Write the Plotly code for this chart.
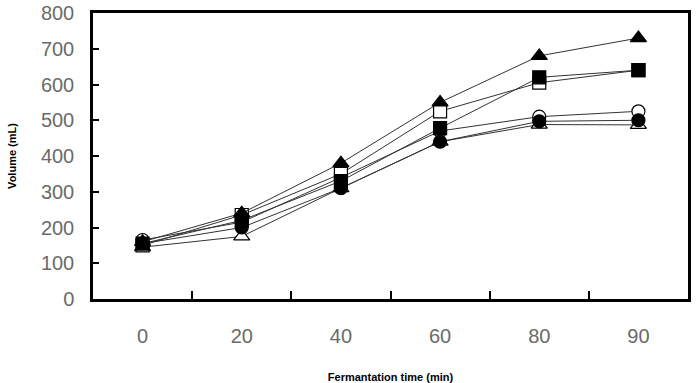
import plotly.graph_objects as go

time_labels = ["0", "20", "40", "60", "80", "90"]

open_triangle = [145, 175, 310, 440, 488, 487]
filled_circle = [155, 200, 310, 440, 497, 500]
open_circle = [165, 215, 340, 470, 510, 525]
open_square = [150, 235, 350, 525, 605, 640]
filled_square = [155, 220, 330, 478, 620, 640]
filled_triangle = [160, 240, 380, 550, 680, 730]

y_ticks = [0, 100, 200, 300, 400, 500, 600, 700, 800]

series = [
    ("open triangle", open_triangle, "triangle-up", "white", 14),
    ("open circle", open_circle, "circle", "white", 13),
    ("filled circle", filled_circle, "circle", "black", 13),
    ("open square", open_square, "square", "white", 13),
    ("filled square", filled_square, "square", "black", 13),
    ("filled triangle", filled_triangle, "triangle-up", "black", 14),
]

fig = go.Figure()
for name, vals, sym, fill, size in series:
    fig.add_trace(go.Scatter(
        x=time_labels, y=vals, name=name, mode="lines+markers",
        line=dict(color="#333333", width=1),
        marker=dict(symbol=sym, size=size, color=fill,
                    line=dict(color="black", width=1.2)),
        showlegend=False,
    ))

fig.update_layout(
    width=700, height=383,
    margin=dict(l=93, r=12, t=13, b=84),
    paper_bgcolor="white", plot_bgcolor="white",
    font=dict(family="Liberation Sans", color="#6a6a6a"),
    xaxis=dict(
        type="category", range=[-0.5, 5.5], automargin=False,
        tickson="boundaries", ticks="inside", ticklen=8, tickwidth=2,
        tickcolor="black",
        showline=True, linecolor="black", linewidth=3, mirror=True,
        showgrid=False, zeroline=False,
        tickfont=dict(size=20, color="#6a6a6a"),
        ticklabelstandoff=17,
        title=dict(text="<b>Fermantation time (min)</b>",
                   font=dict(size=11, color="black"), standoff=28),
    ),
    yaxis=dict(
        range=[0, 800], tickvals=y_ticks, automargin=False,
        ticks="inside", ticklen=6, tickwidth=1.5, tickcolor="black",
        showline=True, linecolor="black", linewidth=2.5, mirror=True,
        showgrid=False, zeroline=False,
        tickfont=dict(size=20, color="#6a6a6a"),
        ticklabelstandoff=12,
        title=dict(text="<b>Volume (mL)</b>",
                   font=dict(size=11, color="black"), standoff=23),
    ),
)

fig.write_html("out.html")
